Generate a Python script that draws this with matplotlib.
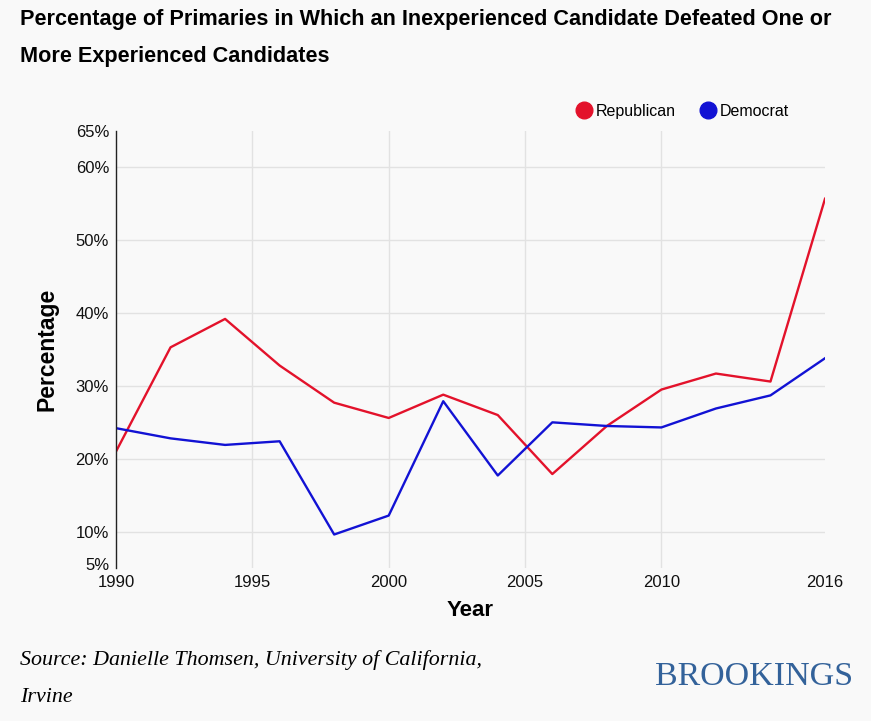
import numpy as np
import matplotlib
matplotlib.use("Agg")
import matplotlib.pyplot as plt
import matplotlib.transforms as mtransforms
from matplotlib.lines import Line2D

years = [1990, 1992, 1994, 1996, 1998, 2000, 2002, 2004, 2006, 2008, 2010, 2012, 2014, 2016]
republican = [21.0, 35.3, 39.2, 32.8, 27.7, 25.6, 28.8, 26.0, 17.9, 24.5, 29.5, 31.7, 30.6, 55.7]
democrat = [24.2, 22.8, 21.9, 22.4, 9.6, 12.2, 27.9, 17.7, 25.0, 24.5, 24.3, 26.9, 28.7, 33.8]

y_ticks = [5, 10, 20, 30, 40, 50, 60, 65]
x_ticks = [1990, 1995, 2000, 2005, 2010, 2016]

RED = "#e3122b"
BLUE = "#1212d4"
BG = "#f9f9f9"

plt.rcParams["font.family"] = ["Liberation Sans", "DejaVu Sans"]

fig = plt.figure(figsize=(8.71, 7.21), dpi=100, facecolor=BG)
ax = fig.add_axes([0.1332, 0.2122, 0.8140, 0.6061])
ax.set_facecolor(BG)

ax.plot(years, republican, color=RED, lw=1.7)
ax.plot(years, democrat, color=BLUE, lw=1.7)

ax.set_xlim(1990, 2016)
ax.set_ylim(5, 65)
ax.set_xticks(x_ticks)
ax.set_yticks(y_ticks)
ax.set_yticklabels([f"{t}%" for t in y_ticks])
ax.tick_params(axis="both", length=0, labelsize=12, colors="#111111")
ax.tick_params(axis="x", pad=5)
ax.tick_params(axis="y", pad=5)

# nudge the 5% label up a little so it sits above the 1990 label
lbl5 = ax.get_yticklabels()[0]
lbl5.set_transform(lbl5.get_transform() + mtransforms.ScaledTranslation(0, 3 / 72, fig.dpi_scale_trans))

ax.grid(color="#e2e2e2", lw=1.0)
ax.set_axisbelow(True)
for gl in (ax.yaxis.get_gridlines()[0], ax.yaxis.get_gridlines()[-1],
           ax.xaxis.get_gridlines()[0], ax.xaxis.get_gridlines()[-1]):
    gl.set_visible(False)

for s in ["top", "right", "bottom"]:
    ax.spines[s].set_visible(False)
ax.spines["left"].set_color("#222222")
ax.spines["left"].set_linewidth(1.0)

ax.set_xlabel("Year", fontsize=16, fontweight="bold", labelpad=7)
ax.set_ylabel("Percentage", fontsize=16.5, fontweight="bold", labelpad=12)

handles = [
    Line2D([], [], marker="o", color="none", markerfacecolor=RED, markeredgecolor=RED, markersize=12),
    Line2D([], [], marker="o", color="none", markerfacecolor=BLUE, markeredgecolor=BLUE, markersize=12),
]
fig.legend(handles, ["Republican", "Democrat"], ncol=2, frameon=False,
           loc="center left", bbox_to_anchor=(0.643, 0.846), fontsize=11.5,
           handletextpad=0.15, columnspacing=1.4, handlelength=1.2)

fig.text(0.023, 0.973, "Percentage of Primaries in Which an Inexperienced Candidate Defeated One or",
         fontsize=15.6, fontweight="bold", va="center", ha="left")
fig.text(0.023, 0.921, "More Experienced Candidates",
         fontsize=15.6, fontweight="bold", va="center", ha="left")

fig.text(0.023, 0.0846, "Source: Danielle Thomsen, University of California,",
         fontsize=15.8, style="italic", va="center", ha="left",
         family=["Liberation Serif", "DejaVu Serif"])
fig.text(0.023, 0.032, "Irvine",
         fontsize=15.8, style="italic", va="center", ha="left",
         family=["Liberation Serif", "DejaVu Serif"])
fig.text(0.979, 0.061, "BROOKINGS", fontsize=24.5, color="#33629a",
         va="center", ha="right", family=["Liberation Serif", "DejaVu Serif"])

plt.savefig("out.png", dpi=100, facecolor=BG)
